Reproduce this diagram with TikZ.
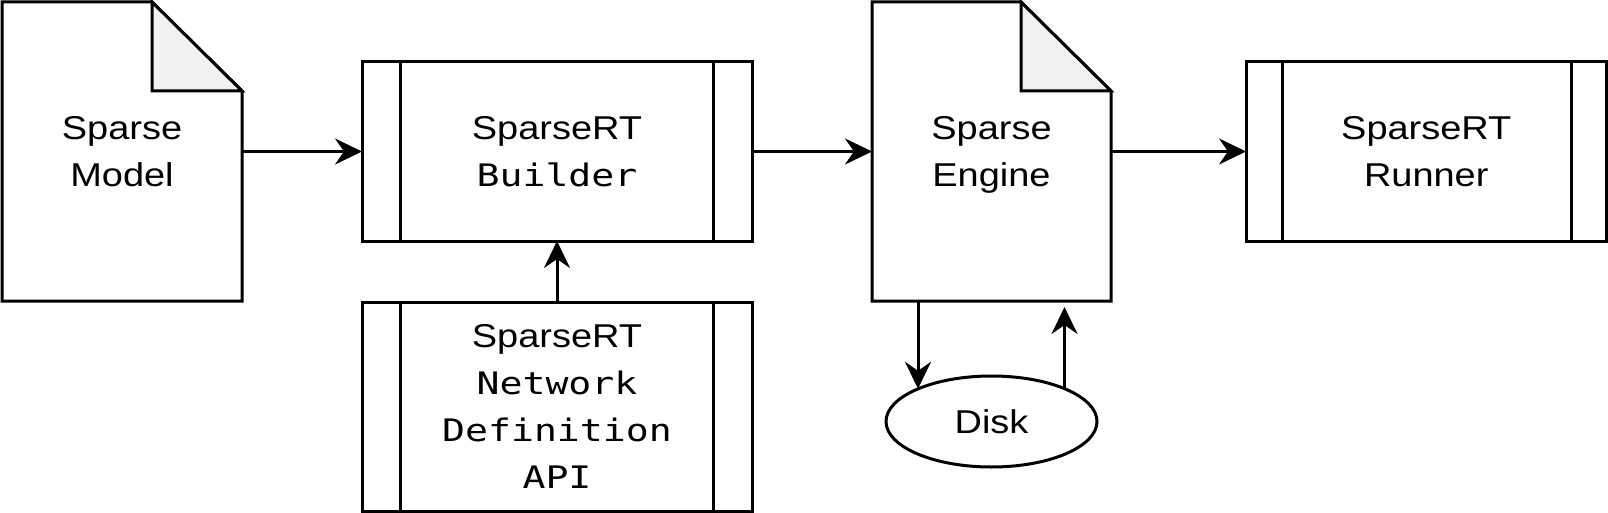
\documentclass[tikz,border=0pt]{standalone}
\usepackage{fontspec}
\setmainfont{Liberation Sans}
\newfontfamily\sansfam[FakeStretch=1.15]{Liberation Sans}
\newfontfamily\monofam[FakeStretch=1.23]{DejaVu Sans Mono}
\newcommand\monotext[1]{{\monofam\fontsize{31}{47}\selectfont #1}}
\newcommand\nodepth[1]{\raisebox{0pt}[\height][0pt]{#1}}
\usetikzlibrary{arrows.meta,shapes.geometric,calc}
\definecolor{foldgray}{HTML}{F1F1F1}
\begin{document}
\begin{tikzpicture}[x=1pt,y=-1pt,line width=3pt,
  lbl/.style={inner sep=0pt,outer sep=0pt,align=center,
    font=\sansfam\fontsize{33}{47}\selectfont},
  proc/.style={lbl,draw,rectangle},
  docbox/.style={lbl,rectangle},
  arr/.style={-{Stealth[length=27pt,width=26pt,inset=9pt]},line width=3pt},
  fold/.style={fill=foldgray,line join=miter}]
\useasboundingbox (0,0) rectangle (1608,513);

% Sparse Model document
\node[docbox,minimum width=240pt,minimum height=299pt] (model) at (122,151.5) {Sparse\\Model};
\draw[line join=miter] (model.north west) -- ([xshift=-90pt]model.north east)
  -- ([yshift=-89pt]model.north east) -- (model.south east) -- (model.south west) -- cycle;
\draw[fold] ([xshift=-90pt]model.north east) -- ([xshift=-90pt,yshift=-89pt]model.north east)
  -- ([yshift=-89pt]model.north east) -- cycle;

% SparseRT Builder
\node[proc,minimum width=390pt,minimum height=179pt] (builder) at (557,151.5)
  {SparseRT\\\monotext{Builder}};
\draw ([xshift=38pt]builder.north west) -- ([xshift=38pt]builder.south west);
\draw ([xshift=-39pt]builder.north east) -- ([xshift=-39pt]builder.south east);

% Network Definition API
\node[proc,minimum width=390pt,minimum height=209pt] (api) at (557,406.5)
  {SparseRT\\\monotext{Network}\\\monotext{Definition}\\\monotext{API}};
\draw ([xshift=38pt]api.north west) -- ([xshift=38pt]api.south west);
\draw ([xshift=-39pt]api.north east) -- ([xshift=-39pt]api.south east);

% Sparse Engine document
\node[docbox,minimum width=239pt,minimum height=299pt] (engine) at (991.5,151.5) {Sparse\\\nodepth{Engine}};
\draw[line join=miter] (engine.north west) -- ([xshift=-90pt]engine.north east)
  -- ([yshift=-89pt]engine.north east) -- (engine.south east) -- (engine.south west) -- cycle;
\draw[fold] ([xshift=-90pt]engine.north east) -- ([xshift=-90pt,yshift=-89pt]engine.north east)
  -- ([yshift=-89pt]engine.north east) -- cycle;

% SparseRT Runner
\node[proc,minimum width=360.5pt,minimum height=179pt] (runner) at (1426.25,151.5) {SparseRT\\Runner};
\draw ([xshift=36pt]runner.north west) -- ([xshift=36pt]runner.south west);
\draw ([xshift=-35.5pt]runner.north east) -- ([xshift=-35.5pt]runner.south east);

% Disk
\node[lbl,draw,ellipse,minimum width=211pt,minimum height=91pt] (disk) at (991.5,421.5) {Disk};

% connectors
\draw[arr] (model) -- (builder);
\draw[arr] (builder) -- (engine);
\draw[arr] (engine) -- (runner);
\draw[arr] (api) -- (builder);
\coordinate (e1) at ([xshift=46pt]engine.south west);
\coordinate (e2) at ([xshift=-46.5pt,yshift=-6pt]engine.south east);
\draw[arr] (e1) -- (e1 |- disk.156);
\draw[arr] (e2 |- disk.24) -- (e2);
\end{tikzpicture}
\end{document}
